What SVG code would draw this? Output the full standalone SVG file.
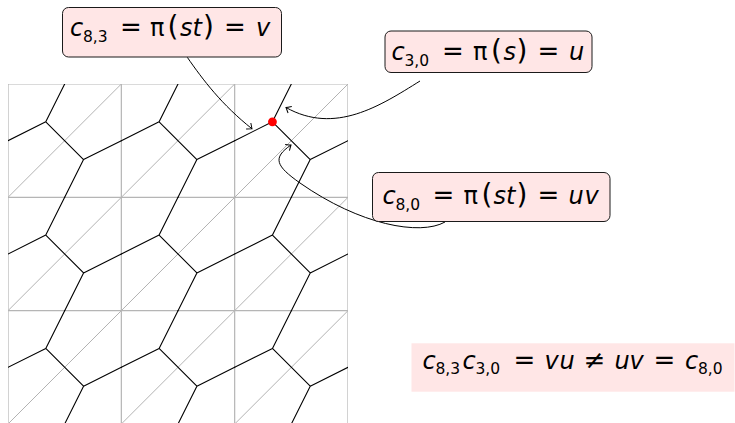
<svg xmlns="http://www.w3.org/2000/svg" xmlns:xlink="http://www.w3.org/1999/xlink" width="735" height="423" viewBox="0 0 735 423">
<style>
.grid{fill:none;stroke:#b5b5b5;stroke-width:1.2}
.diag{fill:none;stroke:#a0a0a0;stroke-width:0.8}
.hex{fill:none;stroke:#000;stroke-width:1.1;stroke-linecap:round;stroke-linejoin:round}
.box{fill:#ffe6e6;stroke:#1a1a1a;stroke-width:1}
.conn{fill:none;stroke:#000;stroke-width:1}
.t{font-family:"DejaVu Sans","Liberation Sans",sans-serif;font-size:24px;fill:#000}
.i{font-style:italic}
.sub{font-size:15.5px;font-style:normal}
.pi{font-style:normal}
.eq{font-size:26px;font-style:normal}
.par{font-size:28px;font-style:normal}
</style>
<defs>
<clipPath id="clip"><rect x="8" y="84" width="340" height="340"/></clipPath>
<path id="cellhex" class="hex" d="M56.67,0 L37.78,37.78 L0,56.67 M37.78,37.78 L75.56,75.56 L56.67,113.33 M75.56,75.56 L113.33,56.67"/>
<path id="celldiag" class="diag" d="M0,113.33 L113.33,0"/>
<marker id="to" viewBox="-6 -5 8 10" markerWidth="8" markerHeight="10" refX="0" refY="0" orient="auto" markerUnits="userSpaceOnUse" overflow="visible">
<path d="M-4.5,-3.8 Q-1,-0.8 0,0 Q-1,0.8 -4.5,3.8" fill="none" stroke="#000" stroke-width="1"/>
</marker>
</defs>

<g id="grid" clip-path="url(#clip)">
<use xlink:href="#celldiag" x="8" y="84"/>
<use xlink:href="#celldiag" x="121.33" y="84"/>
<use xlink:href="#celldiag" x="234.67" y="84"/>
<use xlink:href="#celldiag" x="8" y="197.33"/>
<use xlink:href="#celldiag" x="121.33" y="197.33"/>
<use xlink:href="#celldiag" x="234.67" y="197.33"/>
<use xlink:href="#celldiag" x="8" y="310.67"/>
<use xlink:href="#celldiag" x="121.33" y="310.67"/>
<use xlink:href="#celldiag" x="234.67" y="310.67"/>
<path class="grid" d="M8,84 H348 M8,197.33 H348 M8,310.67 H348 M8,84 V424 M121.33,84 V424 M234.67,84 V424 M348,84 V424"/>
</g>

<g id="lattice" clip-path="url(#clip)">
<use xlink:href="#cellhex" x="8" y="84"/>
<use xlink:href="#cellhex" x="121.33" y="84"/>
<use xlink:href="#cellhex" x="234.67" y="84"/>
<use xlink:href="#cellhex" x="8" y="197.33"/>
<use xlink:href="#cellhex" x="121.33" y="197.33"/>
<use xlink:href="#cellhex" x="234.67" y="197.33"/>
<use xlink:href="#cellhex" x="8" y="310.67"/>
<use xlink:href="#cellhex" x="121.33" y="310.67"/>
<use xlink:href="#cellhex" x="234.67" y="310.67"/>
</g>

<g id="point">
<circle cx="272.44" cy="121.78" r="4.4" fill="#ff0000"/>
</g>

<g id="connectors">
<path class="conn" marker-end="url(#to)" d="M187.3,57.3 C203,80 222,105 252,128.8"/>
<path class="conn" marker-end="url(#to)" d="M420,81 C380,106 335,135 286,107.5"/>
<path class="conn" marker-end="url(#to)" d="M445,222 C420,236 360,225 300,183 C276,166 272,158 291,145"/>
</g>

<g id="label-c83">
<rect class="box" x="62.5" y="7.5" width="219" height="49.5" rx="6"/>
<text class="t" y="36"><tspan x="70" class="i">c</tspan><tspan x="83" y="41.5" class="sub">8,3</tspan><tspan x="120" y="36" class="eq">=</tspan><tspan x="150" class="pi">π</tspan><tspan x="167.5" class="par">(</tspan><tspan x="180" class="i">s</tspan><tspan x="192.5" class="i">t</tspan><tspan x="203" class="par">)</tspan><tspan x="224" class="eq">=</tspan><tspan x="256" class="i">v</tspan></text>
</g>

<g id="label-c30">
<rect class="box" x="385" y="31" width="207" height="41.5" rx="6"/>
<text class="t" y="60"><tspan x="391.5" class="i">c</tspan><tspan x="404.5" y="65.5" class="sub">3,0</tspan><tspan x="442" y="60" class="eq">=</tspan><tspan x="473" class="pi">π</tspan><tspan x="491" class="par">(</tspan><tspan x="503.5" class="i">s</tspan><tspan x="516.5" class="par">)</tspan><tspan x="537.6" class="eq">=</tspan><tspan x="569" class="i">u</tspan></text>
</g>

<g id="label-c80">
<rect class="box" x="372.5" y="172.5" width="237.5" height="49" rx="6"/>
<text class="t" y="204"><tspan x="382.5" class="i">c</tspan><tspan x="395.5" y="209.5" class="sub">8,0</tspan><tspan x="432.5" y="204" class="eq">=</tspan><tspan x="463.5" class="pi">π</tspan><tspan x="481.5" class="par">(</tspan><tspan x="493.5" class="i">s</tspan><tspan x="506" class="i">t</tspan><tspan x="516.5" class="par">)</tspan><tspan x="537.5" class="eq">=</tspan><tspan x="568.5" class="i">u</tspan><tspan x="584.5" class="i">v</tspan></text>
</g>

<g id="equation">
<rect x="411.5" y="343.3" width="323" height="48.4" fill="#ffe6e6"/>
<text class="t" y="368.5"><tspan x="422.5" class="i">c</tspan><tspan x="435.5" y="374" class="sub">8,3</tspan><tspan x="462.5" y="368.5" class="i">c</tspan><tspan x="475.5" y="374" class="sub">3,0</tspan><tspan x="513.5" y="368.5" class="eq">=</tspan><tspan x="544.5" class="i">v</tspan><tspan x="559.5" class="i">u</tspan><tspan x="583.5" class="eq">≠</tspan><tspan x="614.5" class="i">u</tspan><tspan x="629.5" class="i">v</tspan><tspan x="653.5" class="eq">=</tspan><tspan x="685" class="i">c</tspan><tspan x="698" y="374" class="sub">8,0</tspan></text>
</g>
</svg>
